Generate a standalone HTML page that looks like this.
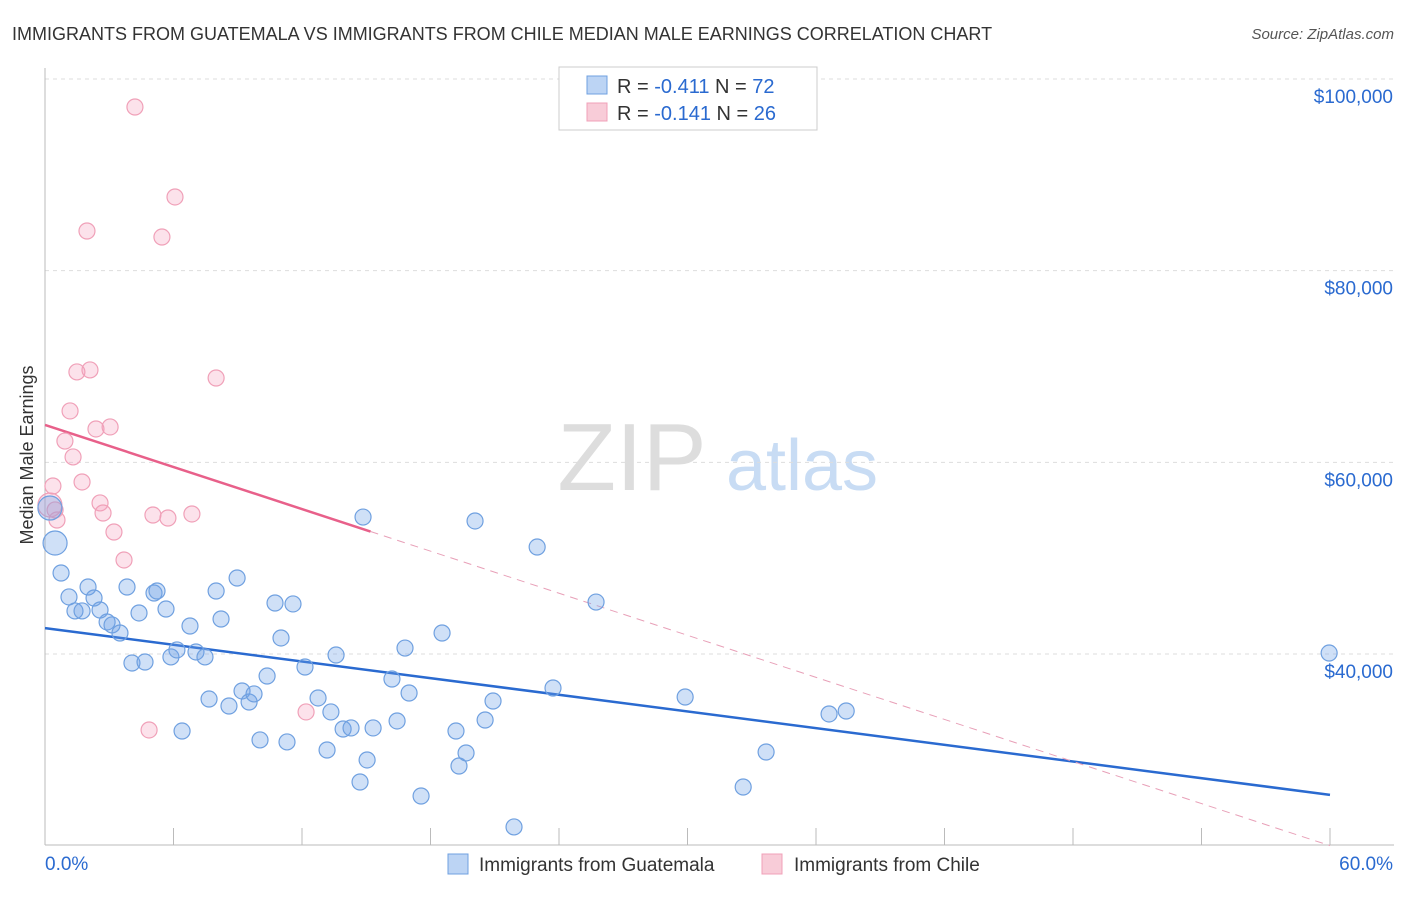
<!DOCTYPE html>
<html><head><meta charset="utf-8"><style>
body{margin:0;background:#fff;font-family:"Liberation Sans",sans-serif;}
svg text{font-family:"Liberation Sans",sans-serif;}
</style></head><body>
<svg id="chart" width="1406" height="892" xmlns="http://www.w3.org/2000/svg">
<text x="12" y="40" font-size="18" fill="#333">IMMIGRANTS FROM GUATEMALA VS IMMIGRANTS FROM CHILE MEDIAN MALE EARNINGS CORRELATION CHART</text>
<text x="1394" y="39" font-size="15" fill="#555" text-anchor="end" font-style="italic">Source: ZipAtlas.com</text>
<text x="33" y="455" font-size="18" fill="#333" text-anchor="middle" transform="rotate(-90 33 455)">Median Male Earnings</text>
<g><text x="632" y="490" font-size="96" fill="#ddd" font-family="Liberation Serif" text-anchor="middle">ZIP</text><text x="802" y="490" font-size="72" fill="#c8dcf4" text-anchor="middle">atlas</text></g>
<g id="grid"></g><g id="axes"></g><g id="trends"></g><g id="pts"></g>
<g>
<rect x="559" y="67" width="258" height="63" fill="#fff" stroke="#ccc"/>
<rect x="587" y="76" width="20" height="18" fill="#bcd4f4" stroke="#6fa0e0"/>
<text x="617" y="93" font-size="20" fill="#333">R = <tspan fill="#2a6ad0">-0.411</tspan>   N = <tspan fill="#2a6ad0">72</tspan></text>
<rect x="587" y="103" width="20" height="18" fill="#f8ccd8" stroke="#f0a0b8"/>
<text x="617" y="120" font-size="20" fill="#333">R = <tspan fill="#2a6ad0">-0.141</tspan>   N = <tspan fill="#2a6ad0">26</tspan></text>
</g>
<g>
<rect x="448" y="854" width="20" height="20" fill="#bcd4f4" stroke="#6fa0e0"/>
<text x="479" y="871" font-size="19" fill="#333">Immigrants from Guatemala</text>
<rect x="762" y="854" width="20" height="20" fill="#f8ccd8" stroke="#f0a0b8"/>
<text x="794" y="871" font-size="19" fill="#333">Immigrants from Chile</text>
</g>
</svg>
<script>
const blueX=[0.23,0.47,0.75,1.12,1.40,1.73,2.01,2.29,2.57,2.90,3.13,3.50,3.83,4.06,4.39,4.67,5.09,5.23,5.65,5.88,6.16,6.40,6.77,7.05,7.47,7.66,7.99,8.22,8.59,8.97,9.20,9.53,9.76,10.04,10.37,10.74,11.02,11.30,11.58,12.14,12.75,13.17,13.35,13.59,13.92,14.29,14.71,14.85,15.04,15.32,16.20,16.44,16.81,17.00,17.56,18.54,19.19,19.33,19.66,20.08,20.55,20.92,21.90,22.98,23.72,25.73,29.89,32.60,33.67,36.61,37.41,59.96];
const blueY=[55230,51580,48450,45950,44490,44490,46990,45840,44590,43340,43030,42190,46990,39060,44280,39160,46360,46570,44690,39690,40420,31960,42920,40210,39690,35300,46570,43650,34570,47930,36140,34990,35830,31030,37700,45320,41670,30820,45220,38640,35410,29980,33950,39890,32170,32280,26640,54290,28940,32280,37390,33010,40620,35930,25180,42190,31960,28310,29670,53880,33110,35090,21950,51160,36450,45420,35510,26120,29770,33740,34050,40100];
const pinkX=[0.23,0.37,0.56,0.93,1.17,1.31,1.49,1.73,1.96,2.10,2.38,2.57,2.71,3.04,3.22,3.69,4.20,4.86,5.04,5.46,5.74,6.07,6.86,7.99,12.19,0.47];
const pinkY=[55550,57530,53980,62220,65360,60560,69430,57950,84140,69640,63480,55760,54710,63690,52730,49810,97080,32070,54500,83510,54190,87690,54610,68800,33950,55030];
const yTicks=[100000,80000,60000,40000];
const yTickLabels=["$100,000","$80,000","$60,000","$40,000"];
const blueTrend=[42700,25300]; // value at 0% and 60%
const pinkTrend=[63900,20000];
const xs=v=>45+v/60*1285;
const ys=v=>79+(100000-v)*0.009583;
const NS="http://www.w3.org/2000/svg";
function mk(tag,attrs,parent){const e=document.createElementNS(NS,tag);for(const k in attrs)e.setAttribute(k,attrs[k]);document.getElementById(parent).appendChild(e);return e;}
yTicks.forEach((t,i)=>{
 const l=mk('line',{x1:45,x2:1394,y1:ys(t),y2:ys(t),stroke:'#ddd','stroke-dasharray':'4,4'},'grid');
 
 
 const tx=mk('text',{x:1393,y:ys(t)+24,'font-size':19,fill:'#2a6ad0','text-anchor':'end'},'grid');
 tx.textContent=yTickLabels[i];
 
 
});
const ax=mk('line',{x1:45,x2:1394,y1:845,y2:845,stroke:'#bbb'},'axes');


const ay=mk('line',{x1:45,x2:45,y1:68,y2:845,stroke:'#bbb'},'axes');


for(let i=0;i<=10;i++){const t=mk('line',{x1:xs(i*6),x2:xs(i*6),y1:828,y2:845,stroke:'#bbb'},'axes');
 
 }
const x0=mk('text',{x:45,y:870,'font-size':19,fill:'#2a6ad0'},'axes');x0.textContent='0.0%';


const x1=mk('text',{x:1393,y:870,'font-size':19,fill:'#2a6ad0','text-anchor':'end'},'axes');x1.textContent='60.0%';


function pts(X,Y,fill,stroke,name){X.forEach((x,i)=>{const big=i<2&&name==='guatemala-point'||i===0&&name==='chile-point';
 const c=mk('circle',{cx:xs(x),cy:ys(Y[i]),r:big?12:8,fill:fill,stroke:stroke,'stroke-width':1.2},'pts');
 
 });}
pts(pinkX,pinkY,'rgba(245,160,190,0.3)','#f0a0b8','chile-point');
pts(blueX,blueY,'rgba(110,160,230,0.33)','#6fa0e0','guatemala-point');
const bl=mk('line',{x1:xs(0),y1:ys(blueTrend[0]),x2:xs(60),y2:ys(blueTrend[1]),stroke:'#2a6ad0','stroke-width':2.5},'trends');


const pv=x=>pinkTrend[0]+(pinkTrend[1]-pinkTrend[0])*x/60;
const ps=mk('line',{x1:xs(0),y1:ys(pv(0)),x2:xs(15.2),y2:ys(pv(15.2)),stroke:'#e8608a','stroke-width':2.5},'trends');


const pd=mk('line',{x1:xs(15.2),y1:ys(pv(15.2)),x2:xs(60),y2:ys(pv(60)),stroke:'#e8a0b8','stroke-width':1,'stroke-dasharray':'8,6'},'trends');


</script>
</body></html>
